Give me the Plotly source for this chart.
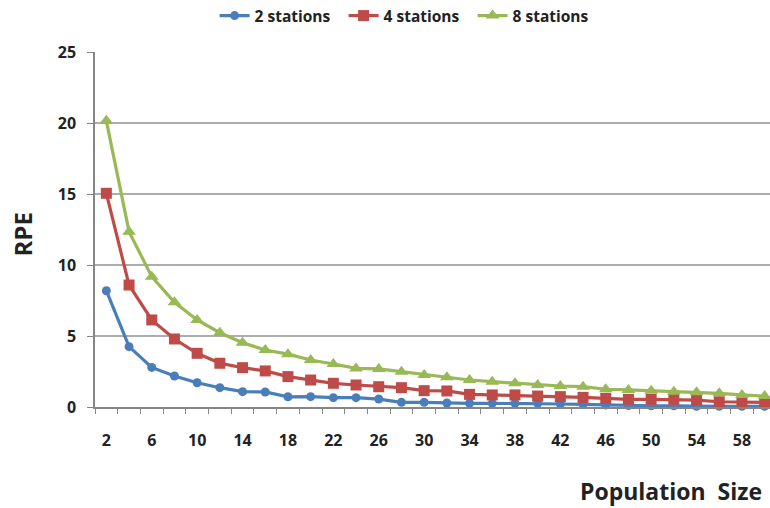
import plotly.graph_objects as go

# Population sizes (x) and RPE values for each number of stations
population = list(range(2, 61, 2))

rpe_2_stations = [8.19, 4.25, 2.79, 2.18, 1.71, 1.36, 1.08, 1.06, 0.72, 0.73,
                  0.66, 0.66, 0.56, 0.33, 0.33, 0.28, 0.26, 0.26, 0.26, 0.26,
                  0.21, 0.19, 0.14, 0.10, 0.08, 0.08, 0.05, 0.05, 0.05, 0.05]
rpe_4_stations = [15.05, 8.59, 6.13, 4.79, 3.78, 3.08, 2.77, 2.54, 2.14, 1.90,
                  1.67, 1.55, 1.43, 1.36, 1.15, 1.13, 0.89, 0.85, 0.85, 0.77,
                  0.73, 0.68, 0.61, 0.54, 0.54, 0.54, 0.49, 0.37, 0.33, 0.33]
rpe_8_stations = [20.15, 12.35, 9.18, 7.37, 6.13, 5.23, 4.53, 4.01, 3.72, 3.31,
                  3.03, 2.72, 2.68, 2.49, 2.25, 2.09, 1.90, 1.78, 1.67, 1.55,
                  1.48, 1.43, 1.25, 1.20, 1.15, 1.08, 1.03, 0.96, 0.85, 0.77]

x_tick_labels = list(range(2, 59, 4))
y_ticks = [0, 5, 10, 15, 20, 25]

FONT = "Open Sans"
TEXT = "#222222"
AXIS = "#868686"

series = [
    ("2 stations", rpe_2_stations, "#4A7EBB", "circle", 9),
    ("4 stations", rpe_4_stations, "#BE4B48", "square", 11),
    ("8 stations", rpe_8_stations, "#98B954", "triangle-up", 12),
]

fig = go.Figure()
for name, vals, color, symbol, size in series:
    fig.add_trace(go.Scatter(
        x=population, y=vals, name=name, mode="lines+markers",
        line=dict(color=color, width=3.2),
        marker=dict(symbol=symbol, size=size, color=color),
        cliponaxis=False,
    ))

fig.update_layout(
    width=770, height=508,
    margin=dict(l=95, r=0, t=52, b=101),
    paper_bgcolor="white", plot_bgcolor="white",
    font=dict(family=FONT, color=TEXT, size=15),
    showlegend=True,
    legend=dict(
        orientation="h", xref="container", yref="container",
        x=0.53, xanchor="center", y=1 - 16 / 508, yanchor="middle",
        font=dict(family=FONT, size=15.5, color=TEXT, weight="bold"),
        itemwidth=30, tracegroupgap=0,
        entrywidth=84, entrywidthmode="pixels",
    ),
)

fig.update_xaxes(
    range=[1, 1 + 675 / 11.35],
    tickmode="array", tickvals=x_tick_labels,
    ticktext=[str(v) for v in x_tick_labels],
    ticks="", showgrid=False, zeroline=False,
    showline=True, linecolor=AXIS, linewidth=1.5,
    tickfont=dict(family=FONT, size=16, color=TEXT, weight="bold"),
    ticklabelstandoff=18,
    minor=dict(tickmode="linear", tick0=1, dtick=2, ticks="outside",
               ticklen=5, tickcolor=AXIS, tickwidth=1, showgrid=False),
)

fig.update_yaxes(
    range=[0, 25], tickmode="array", tickvals=y_ticks,
    ticks="outside", ticklen=6, tickcolor=AXIS,
    showgrid=True, gridcolor="#ADADAD", gridwidth=1.5,
    zeroline=False, showline=True, linecolor=AXIS, linewidth=1.5,
    tickfont=dict(family=FONT, size=16, color=TEXT, weight="bold"),
    ticklabelstandoff=8,
)

fig.add_annotation(
    text="RPE", textangle=-90, xref="paper", yref="paper",
    x=0, xanchor="center", xshift=-73, y=0.5, yanchor="middle", yshift=-5,
    showarrow=False,
    font=dict(family=FONT, size=24, color=TEXT, weight="bold"),
)
fig.add_annotation(
    text="Population&nbsp;&nbsp;Size", xref="paper", yref="paper",
    x=1, xanchor="right", xshift=-6, y=0, yshift=-84, yanchor="middle",
    showarrow=False,
    font=dict(family=FONT, size=23, color=TEXT, weight="bold"),
)

fig.write_html("out.html")
